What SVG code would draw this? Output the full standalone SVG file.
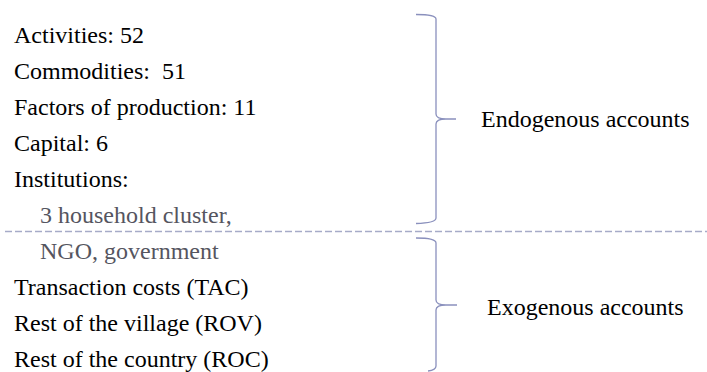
<svg xmlns="http://www.w3.org/2000/svg" width="707" height="372" viewBox="0 0 707 372" font-family="Liberation Serif">
<style>
.t{font-size:24px;fill:#000}
.sub{fill:#555560}
.brace{fill:none;stroke:#8a90bd;stroke-width:1.3}
.sep{stroke:#a6abc8;stroke-width:1.5;stroke-dasharray:7 3}
</style>
<rect width="707" height="372" fill="#fff"/>
<g id="endogenous-list" font-family="Liberation Serif">
<text class="t" x="14" y="43" font-family="Liberation Serif">Activities: 52</text>
<text class="t" x="14" y="79" font-family="Liberation Serif" xml:space="preserve">Commodities:  51</text>
<text class="t" x="14" y="115" font-family="Liberation Serif">Factors of production: 11</text>
<text class="t" x="14" y="151" font-family="Liberation Serif">Capital: 6</text>
<text class="t" x="14" y="187" font-family="Liberation Serif">Institutions:</text>
<text class="t sub" x="40" y="223" font-family="Liberation Serif">3 household cluster,</text>
</g>
<g id="exogenous-list" font-family="Liberation Serif">
<text class="t sub" x="40" y="259" font-family="Liberation Serif">NGO, government</text>
<text class="t" x="14" y="295" font-family="Liberation Serif">Transaction costs (TAC)</text>
<text class="t" x="14" y="331" font-family="Liberation Serif">Rest of the village (ROV)</text>
<text class="t" x="14" y="367" font-family="Liberation Serif">Rest of the country (ROC)</text>
</g>
<g id="connectors">
<line class="sep" x1="5" y1="231.5" x2="707" y2="231.5"/>
<path class="brace" d="M416,14.5 Q436,14.5 436,19 L436,114 Q436,119 446,119 L456,119 M446,119 Q436,119 436,124 L436,218 Q436,223 416,223.5"/>
<path class="brace" d="M416,238 Q436,238 436,243 L436,300 Q436,305 446,305 L457,305 M446,305 Q436,305 436,310 L436,366 Q436,370 428,371"/>
</g>
<g id="endogenous-label" font-family="Liberation Serif">
<text class="t" x="481" y="127" font-family="Liberation Serif">Endogenous accounts</text>
</g>
<g id="exogenous-label" font-family="Liberation Serif">
<text class="t" x="487" y="315" font-family="Liberation Serif">Exogenous accounts</text>
</g>
</svg>
